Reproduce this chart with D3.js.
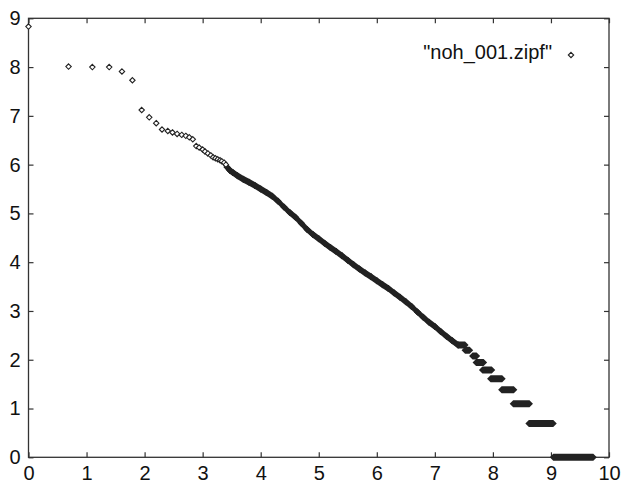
<!DOCTYPE html>
<html><head><meta charset="utf-8">
<script src="https://cdn.jsdelivr.net/npm/d3@7/dist/d3.min.js"></script>
<style>
body{margin:0;background:#fff}
svg{display:block}
text{font-family:"Liberation Sans",Arial,Helvetica,sans-serif}
</style>
</head><body>
<svg id="c" width="622" height="484"></svg>
<script>
// ---- data (log rank, log frequency) ----
const xTicks = [0,1,2,3,4,5,6,7,8,9,10];
const yTicks = [0,1,2,3,4,5,6,7,8,9];
const legendLabel = '"noh_001.zipf"';

// individually resolved points
const sparseX = [0,0.69,1.10,1.39,1.61,1.79,1.95,2.08,2.20,2.30,2.40,2.48,2.56,2.64,2.71,2.77,2.83,2.89,2.94,3.00,3.04,3.09,3.14,3.18,3.22,3.26,3.30,3.33,3.37,3.40];
const sparseY = [8.83,8.01,8.00,8.00,7.91,7.73,7.12,6.97,6.85,6.72,6.69,6.66,6.63,6.61,6.59,6.56,6.52,6.38,6.35,6.31,6.27,6.23,6.19,6.15,6.13,6.11,6.09,6.07,6.04,6.00];

// dense band of overlapping points
const bandX = [3.42,3.47,3.52,3.60,3.70,3.80,3.90,4.00,4.10,4.20,4.30,4.40,4.50,4.60,4.70,4.80,4.90,5.00,5.10,5.20,5.30,5.40,5.50,5.60,5.70,5.80,5.90,6.00,6.10,6.20,6.30,6.40,6.50,6.60,6.70,6.80,6.90,7.00,7.10,7.20,7.30,7.40];
const bandY = [5.95,5.88,5.84,5.77,5.70,5.64,5.57,5.50,5.43,5.35,5.25,5.13,5.02,4.92,4.80,4.67,4.57,4.48,4.39,4.30,4.22,4.13,4.04,3.95,3.86,3.78,3.70,3.62,3.54,3.46,3.37,3.28,3.19,3.09,2.98,2.87,2.77,2.68,2.58,2.48,2.39,2.30];

// low-frequency plateaus (frequency 10 .. 1)
const stepY  = [2.303,2.197,2.079,1.946,1.792,1.609,1.386,1.099,0.693,0];
const stepX0 = [7.40,7.52,7.65,7.71,7.82,7.96,8.15,8.35,8.62,9.04];
const stepX1 = [7.52,7.60,7.72,7.84,7.98,8.16,8.36,8.63,9.04,9.73];

// ---- drawing ----
const svg = d3.select("#c");
const x = d3.scaleLinear().domain([0,10]).range([28.5,609]);
const y = d3.scaleLinear().domain([0,9]).range([457.3,18.3]);
const ink = "#222";
const R = 2.7, RB = 3.5;

const diamond = r => `M0,${-r}L${r},0L0,${r}L${-r},0Z`;
const dverts = (px,py,r) => [[px,py-r],[px+r,py],[px,py+r],[px-r,py]];
const sweep = (a,b,r) => d3.polygonHull(dverts(a[0],a[1],r).concat(dverts(b[0],b[1],r)));

// frame
svg.append("rect").attr("x",x(0)).attr("y",y(9)).attr("width",x(10)-x(0)).attr("height",y(0)-y(9))
  .attr("fill","none").attr("stroke","#333").attr("stroke-width",1.3);

function styleAxis(g){
  g.select(".domain").remove();
  g.selectAll(".tick line").attr("stroke","#333").attr("stroke-width",1.2);
  g.selectAll("text").attr("fill","#111").style("font-size","20px")
    .style("font-family",'"Liberation Sans",Arial,Helvetica,sans-serif');
}
svg.append("g").attr("transform",`translate(0,${y(0)})`)
  .call(d3.axisBottom(x).tickValues(xTicks).tickFormat(d3.format("d")).tickSizeInner(-5).tickSizeOuter(0).tickPadding(7))
  .call(styleAxis)
  .selectAll("text").attr("dy",null).attr("y",22.5);
svg.append("g").attr("transform",`translate(0,${y(9)})`)
  .call(d3.axisTop(x).tickValues(xTicks).tickFormat("").tickSizeInner(-5).tickSizeOuter(0))
  .call(styleAxis);
svg.append("g").attr("transform",`translate(${x(0)},0)`)
  .call(d3.axisLeft(y).tickValues(yTicks).tickFormat(d3.format("d")).tickSizeInner(-5).tickSizeOuter(0).tickPadding(8))
  .call(styleAxis);
svg.append("g").attr("transform",`translate(${x(10)},0)`)
  .call(d3.axisRight(y).tickValues(yTicks).tickFormat("").tickSizeInner(-5).tickSizeOuter(0))
  .call(styleAxis);

// dense band
const bandPts = bandX.map((v,i)=>[x(v),y(bandY[i])]);
const gBand = svg.append("g").attr("fill",ink);
gBand.selectAll("path.seg").data(d3.pairs(bandPts)).join("path").attr("class","seg")
  .attr("d",p=>"M"+sweep(p[0],p[1],RB).join("L")+"Z");
gBand.selectAll("path.pt").data(bandPts).join("path").attr("class","pt")
  .attr("transform",p=>`translate(${p[0]},${p[1]})`).attr("d",diamond(RB));
// join band to first plateau
gBand.append("path").attr("d","M"+sweep(bandPts[bandPts.length-1],[x(stepX0[0]),y(stepY[0])],RB).join("L")+"Z");

// plateaus
svg.append("g").attr("fill",ink).selectAll("path").data(stepY).join("path")
  .attr("d",(v,i)=>"M"+sweep([x(stepX0[i]),y(v)],[x(stepX1[i]),y(v)],RB).join("L")+"Z");

// sparse hollow diamonds
svg.append("g").selectAll("path").data(sparseX).join("path")
  .attr("transform",(v,i)=>`translate(${x(v)},${y(sparseY[i])})`)
  .attr("d",diamond(R)).attr("fill","#fff").attr("stroke",ink).attr("stroke-width",1.1);

// legend
svg.append("text").attr("x",552).attr("y",59).attr("text-anchor","end")
  .attr("fill","#111").style("font-size","20px").text(legendLabel);
svg.append("path").attr("transform","translate(571,55)").attr("d",diamond(R))
  .attr("fill","#fff").attr("stroke",ink).attr("stroke-width",1.1);
</script>
</body></html>
